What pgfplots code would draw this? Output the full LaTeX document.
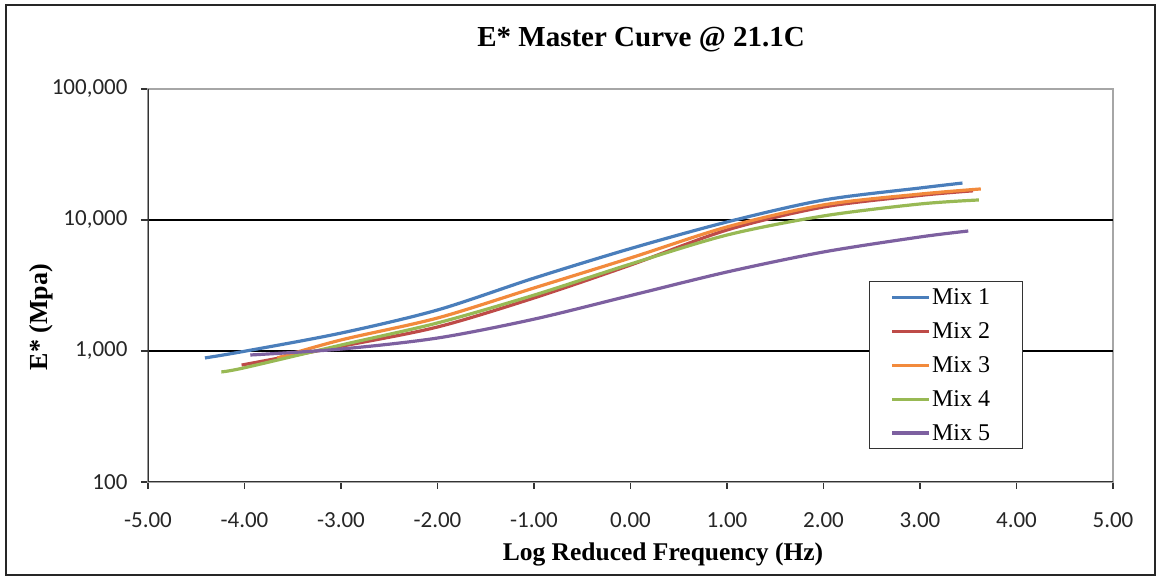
\documentclass[border=0pt]{standalone}
\usepackage{pgfplots}
\pgfplotsset{compat=1.18}
\usepackage{fontspec}
\setmainfont{Liberation Serif}
\newfontfamily\calibri{Carlito}

\definecolor{mixA}{HTML}{4A7EBB}
\definecolor{mixB}{HTML}{BE4B48}
\definecolor{mixC}{HTML}{F28A3C}
\definecolor{mixD}{HTML}{98B954}
\definecolor{mixE}{HTML}{7D60A0}

\newcommand{\legtext}[1]{\makebox[68pt][l]{#1}}

\begin{document}
\begin{tikzpicture}[x=1pt,y=1pt]
\useasboundingbox (-148,-95) rectangle (1009,482);
% outer chart frame
\draw[line width=2.6pt, black!85] (-142,-93) rectangle (1007,477);

\begin{axis}[
  at={(0,0)}, anchor=south west,
  scale only axis, width=965pt, height=393pt,
  xmin=-5, xmax=5,
  ymode=log, ymin=100, ymax=100000,
  xtick={-5,-4,-3,-2,-1,0,1,2,3,4,5},
  xticklabels={-5.00,-4.00,-3.00,-2.00,-1.00,0.00,1.00,2.00,3.00,4.00,5.00},
  ytick={100,1000,10000,100000},
  yticklabels={100,{1,000},{10,000},{100,000}},
  yminorticks=false,
  extra y ticks={1000,10000},
  extra y tick labels={},
  extra y tick style={grid=major},
  grid style={black, line width=1.2pt},
  xtick pos=bottom, ytick pos=left,
  tick align=outside,
  major tick length=7pt,
  tick style={black!80, line width=1.2pt},
  axis line style={gray!70, line width=1.2pt},
  tick label style={font=\fontsize{23}{27}\selectfont\calibri, text=black!85},
  xticklabel style={yshift=-20pt},
  yticklabel style={xshift=-10pt},
  legend cell align=left,
  legend style={at={(rel axis cs:0.747,0.511)}, anchor=north west,
    draw=black!80, line width=1.2pt,
    font=\fontsize{24}{28}\selectfont,
    inner xsep=21pt, inner ysep=5pt, row sep=12.5pt,
    nodes={inner xsep=1.5pt, inner ysep=2pt}},
  legend image code/.code={\draw[#1,line width=3.2pt] (0pt,0pt) -- (37pt,0pt);},
  every axis plot/.append style={line width=3.2pt, smooth, no markers},
]
\addplot[mixA] coordinates {
  (-4.41,885) (-4,995) (-3,1370) (-2,2056) (-1,3600) (0,6050)
  (1,9660) (2,14200) (3,17550) (3.44,19150)};
\addlegendentry{\legtext{Mix 1}}
\addplot[mixB] coordinates {
  (-4.03,781) (-3,1085) (-2,1525) (-1,2540) (0,4530)
  (1,8390) (2,12560) (3,15400) (3.55,16700)};
\addlegendentry{\legtext{Mix 2}}
\addplot[mixC] coordinates {
  (-3.66,885) (-3,1214) (-2,1786) (-1,3027) (0,5130)
  (1,8850) (2,13040) (3,15770) (3.63,17260)};
\addlegendentry{\legtext{Mix 3}}
\addplot[mixD] coordinates {
  (-4.24,692) (-4,745) (-3,1110) (-2,1637) (-1,2670) (0,4610)
  (1,7680) (2,10740) (3,13250) (3.61,14220)};
\addlegendentry{\legtext{Mix 4}}
\addplot[mixE] coordinates {
  (-3.94,932) (-3,1035) (-2,1256) (-1,1750) (0,2650)
  (1,4010) (2,5700) (3,7420) (3.50,8240)};
\addlegendentry{\legtext{Mix 5}}
% darker left and bottom axis lines
\draw[black!80, line width=1.3pt] (rel axis cs:0,1) -- (rel axis cs:0,0) -- (rel axis cs:1,0);
\end{axis}

\node[anchor=base, font=\fontsize{29}{34}\selectfont\bfseries] at (493,435) {E* Master Curve @ 21.1C};
\node[anchor=base, font=\fontsize{25.5}{30}\selectfont\bfseries] at (515,-79) {Log Reduced Frequency (Hz)};
\node[anchor=base, rotate=90, font=\fontsize{26}{30}\selectfont\bfseries] at (-100,165) {E* (Mpa)};
\end{tikzpicture}
\end{document}
